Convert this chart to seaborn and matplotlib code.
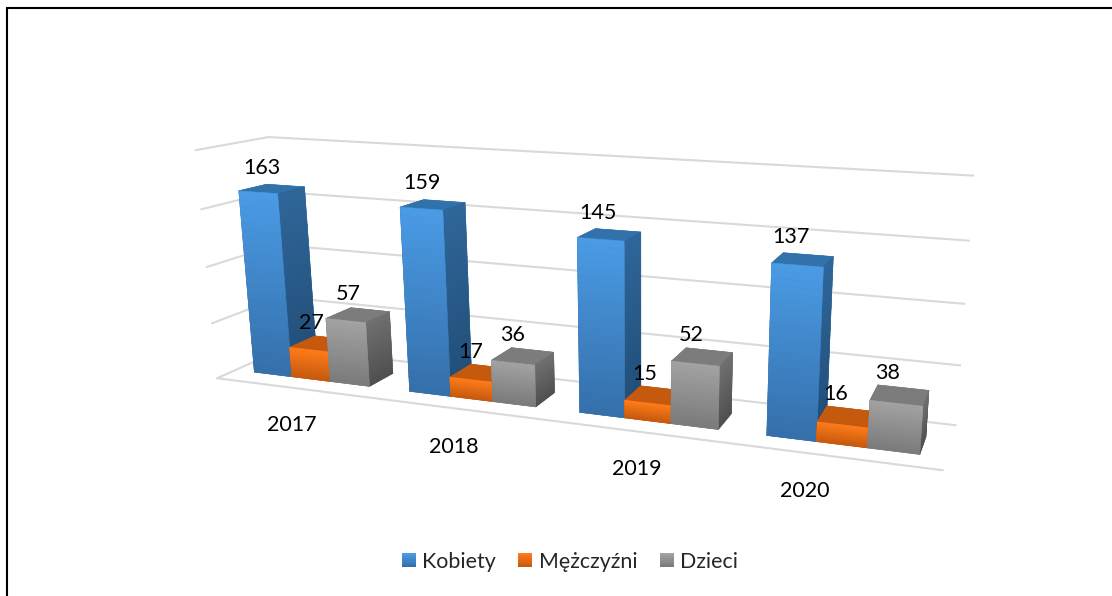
import matplotlib
matplotlib.use('Agg')
import matplotlib.pyplot as plt
from matplotlib.legend_handler import HandlerBase
from matplotlib.lines import Line2D
from matplotlib.patches import Patch, Rectangle
from mpl_toolkits.mplot3d import proj3d
import numpy as np
import seaborn as sns

years = ['2017', '2018', '2019', '2020']
series_names = ['Kobiety', 'Mężczyźni', 'Dzieci']
kobiety = [163, 159, 145, 137]
mezczyzni = [27, 17, 15, 16]
dzieci = [57, 36, 52, 38]
grid_levels = [0, 50, 100, 150, 200]

# front top, front bottom, side top, side bottom, cap
blue = ['#4a9ae4', '#3570aa', '#2f6599', '#214d76', '#3272ab']
orange = ['#ff7c1a', '#c55a0e', '#a84c0b', '#a84c0b', '#c55a0e']
grey = ['#a2a2a2', '#7b7b7b', '#6f6f6f', '#4f4f4f', '#7c7c7c']

sns.set_theme(style='white')
plt.rcParams['font.family'] = ['Lato', 'DejaVu Sans']

fig = plt.figure(figsize=(11.12, 5.96), dpi=100)

# camera fitted from the corners of the Excel box
L = 1800
ox, oy = 686, 596 - 297
focal = 1191 * 0.185 / L
left = ox - 0.5135 * L
bottom = oy - 0.5135 * L
ax = fig.add_axes([left / 1112, bottom / 596, L / 1112, L / 596], projection='3d')
ax.set_proj_type('persp', focal_length=focal)
ax.view_init(elev=14.6, azim=-72.3, roll=-0.56)
ax.set_box_aspect((1, 1, 1))
ax.computed_zorder = False
ax.set_axis_off()
ax.patch.set_alpha(0)

half = 700 * 1.1003 / (20 * focal)
ux, uy, uz = 150, 92.5, 0.9585
ax.set_xlim((457 - half) / ux, (457 + half) / ux, view_margin=0)
ax.set_ylim((-139.6 - half) / uy, (-139.6 + half) / uy, view_margin=0)
ax.set_zlim((145.3 - half) / uz, (145.3 + half) / uz, view_margin=0)
ax.set_xticks([])
ax.set_yticks([])
ax.set_zticks([])

grid_col = '#d9d9d9'
for lev in grid_levels:
    ax.plot([0, 4], [1, 1], [lev, lev], color=grid_col, lw=1.5, zorder=1)
    ax.plot([0, 0], [0, 1], [lev, lev], color=grid_col, lw=1.5, zorder=1)
ax.plot([0, 4], [0, 0], [0, 0], color=grid_col, lw=1.5, zorder=1)

bar_w = 0.25
bar_start = 0.125
bar_y = 0.26
bar_d = 0.39
n_slices = 24
# excel spaces the year labels unevenly
year_x = [0.47, 0.47, 0.50, 0.36]
year_z = [-34, -34, -31, -31]


def draw_bar(x, value, cols):
    front = sns.blend_palette(cols[:2][::-1], n_slices)
    side = sns.blend_palette(cols[2:4][::-1], n_slices)
    dz = value / n_slices
    face_cols = []
    for i in range(n_slices):
        face_cols += [cols[4], cols[4], front[i], cols[4], cols[4], side[i]]
    zs = np.arange(n_slices) * dz
    ax.bar3d([x] * n_slices, [bar_y] * n_slices, zs, bar_w, bar_d, dz,
             color=face_cols, edgecolor=face_cols, linewidth=0.4, shade=False,
             zorder=3)


def label3d(x, y, z, txt, **kw):
    xp, yp, _ = proj3d.proj_transform(x, y, z, ax.get_proj())
    ax.text2D(xp, yp, txt, transform=ax.transData, fontsize=15.5, color='black',
              ha='center', zorder=5, **kw)


all_series = [kobiety, mezczyzni, dzieci]
all_cols = [blue, orange, grey]
for c in range(len(years)):
    for s in range(3):
        x = c + bar_start + s * bar_w
        draw_bar(x, all_series[s][c], all_cols[s])
for c in range(len(years)):
    for s in range(3):
        x = c + bar_start + s * bar_w
        val = all_series[s][c]
        label3d(x + bar_w / 2 - 0.06, bar_y + bar_d / 2, val + 9, str(val), va='bottom')
    label3d(c + year_x[c], 0, year_z[c], years[c], va='center')


class GradientSwatch(HandlerBase):
    def create_artists(self, legend, orig_handle, xdescent, ydescent, width, height,
                       fontsize, trans):
        cols = sns.blend_palette(orig_handle.get_gid().split(), 8)
        return [Rectangle((-xdescent, -ydescent + height * i / 8), width, height / 8 + 0.2,
                          facecolor=col, edgecolor='none', transform=trans)
                for i, col in enumerate(cols)]


handles = []
for name, cols in zip(series_names, all_cols):
    h = Patch(label=name)
    h.set_gid(cols[1] + ' ' + cols[0])
    handles.append(h)
fig.legend(handles=handles, loc='center', bbox_to_anchor=(570 / 1112, 1 - 561.5 / 596),
           ncol=3, frameon=False, fontsize=15.4, handlelength=0.65, handleheight=0.65,
           handletextpad=0.3, columnspacing=1.05,
           handler_map={Patch: GradientSwatch()})

fig.add_artist(Line2D([6.5 / 1112, 6.5 / 1112], [0, 1 - 7.5 / 596], color='black', lw=1.5))
fig.add_artist(Line2D([6.5 / 1112, 1], [1 - 7.5 / 596, 1 - 7.5 / 596], color='black', lw=1.5))

fig.savefig('out.png', dpi=100)
